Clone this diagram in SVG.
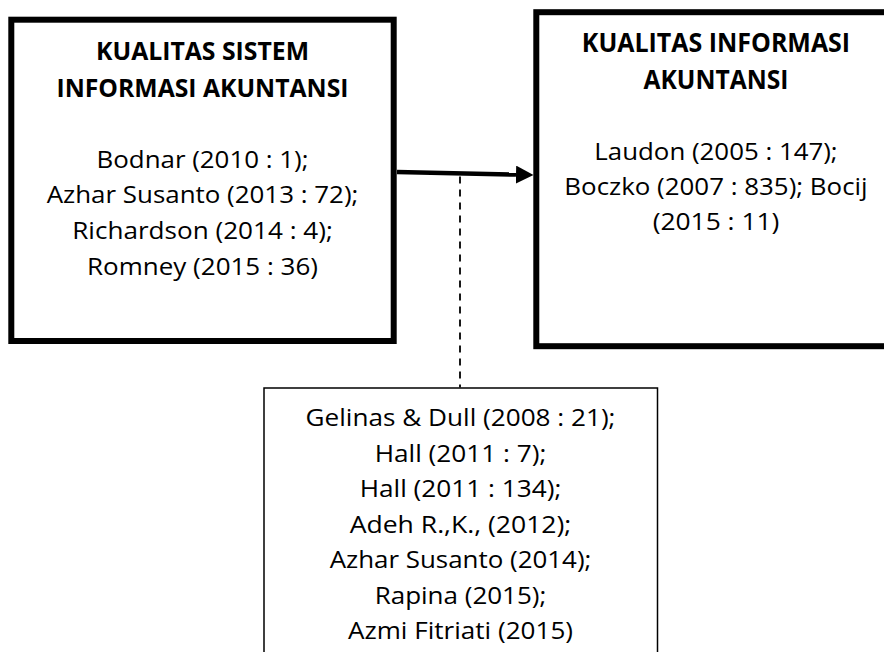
<svg xmlns="http://www.w3.org/2000/svg" width="884" height="652" viewBox="0 0 884 652">
  <style>
    .box { fill: #ffffff; stroke: #000000; }
    .thick { stroke-width: 6; }
    .thin { stroke-width: 1.5; }
    text { font-family: "Open Sans", "Liberation Sans", sans-serif; fill: #000000; text-anchor: middle; font-variant-ligatures: none; }
    .title { font-weight: bold; }
    .t1 { font-size: 24.3px; }
    .t2 { font-size: 26px; }
    .body { font-size: 23.3px; font-weight: 500; }
    .conn { stroke: #000000; fill: none; }
  </style>
  <defs>
    <marker id="arrowhead" markerUnits="userSpaceOnUse" markerWidth="18" markerHeight="18" refX="0" refY="9" orient="auto" viewBox="0 0 18 18">
      <path d="M0,0 L17.5,9 L0,18 Z" fill="#000000"/>
    </marker>
  </defs>
  <rect width="884" height="652" fill="#ffffff"/>

  <g id="connectors">
    <line class="conn" x1="397" y1="172" x2="516" y2="174.6" stroke-width="4.5" marker-end="url(#arrowhead)"/>
    <line class="conn" x1="460" y1="176.5" x2="460" y2="387.5" stroke-width="1.8" stroke-dasharray="7 6"/>
  </g>

  <g id="node-sistem">
    <rect class="box thick" x="11.3" y="19.7" width="382.4" height="321.3"/>
    <text class="title t1" x="202.5" y="60" textLength="213" lengthAdjust="spacingAndGlyphs">KUALITAS SISTEM</text>
    <text class="title t1" x="202.5" y="96.7" textLength="292" lengthAdjust="spacingAndGlyphs">INFORMASI AKUNTANSI</text>
    <text class="body" x="202.5" y="167.5" textLength="212" lengthAdjust="spacingAndGlyphs">Bodnar (2010 : 1);</text>
    <text class="body" x="202.5" y="203.3" textLength="311.7" lengthAdjust="spacingAndGlyphs">Azhar Susanto (2013 : 72);</text>
    <text class="body" x="202.5" y="239.3" textLength="260.6" lengthAdjust="spacingAndGlyphs">Richardson (2014 : 4);</text>
    <text class="body" x="202.5" y="275" textLength="231" lengthAdjust="spacingAndGlyphs">Romney (2015 : 36)</text>
  </g>

  <g id="node-informasi">
    <rect class="box thick" x="536.3" y="12.2" width="400" height="334"/>
    <text class="title t2" x="716" y="52" textLength="268.3" lengthAdjust="spacingAndGlyphs">KUALITAS INFORMASI</text>
    <text class="title t2" x="716" y="88.5" textLength="145" lengthAdjust="spacingAndGlyphs">AKUNTANSI</text>
    <text class="body" x="716" y="160" textLength="243.3" lengthAdjust="spacingAndGlyphs">Laudon (2005 : 147);</text>
    <text class="body" x="716" y="195" textLength="303.3" lengthAdjust="spacingAndGlyphs">Boczko (2007 : 835); Bocij</text>
    <text class="body" x="716" y="230" textLength="126.7" lengthAdjust="spacingAndGlyphs">(2015 : 11)</text>
  </g>

  <g id="node-moderator">
    <rect class="box thin" x="264" y="388" width="393.5" height="300"/>
    <text class="body" x="460.5" y="426.3" textLength="310" lengthAdjust="spacingAndGlyphs">Gelinas &amp; Dull (2008 : 21);</text>
    <text class="body" x="460.5" y="461.5" textLength="171.7" lengthAdjust="spacingAndGlyphs">Hall (2011 : 7);</text>
    <text class="body" x="460.5" y="497" textLength="201.7" lengthAdjust="spacingAndGlyphs">Hall (2011 : 134);</text>
    <text class="body" x="460.5" y="532.7" textLength="221.7" lengthAdjust="spacingAndGlyphs">Adeh R.,K., (2012);</text>
    <text class="body" x="460.5" y="568.2" textLength="261.7" lengthAdjust="spacingAndGlyphs">Azhar Susanto (2014);</text>
    <text class="body" x="460.5" y="603.5" textLength="171.7" lengthAdjust="spacingAndGlyphs">Rapina (2015);</text>
    <text class="body" x="460.5" y="638.5" textLength="225" lengthAdjust="spacingAndGlyphs">Azmi Fitriati (2015)</text>
  </g>
</svg>
